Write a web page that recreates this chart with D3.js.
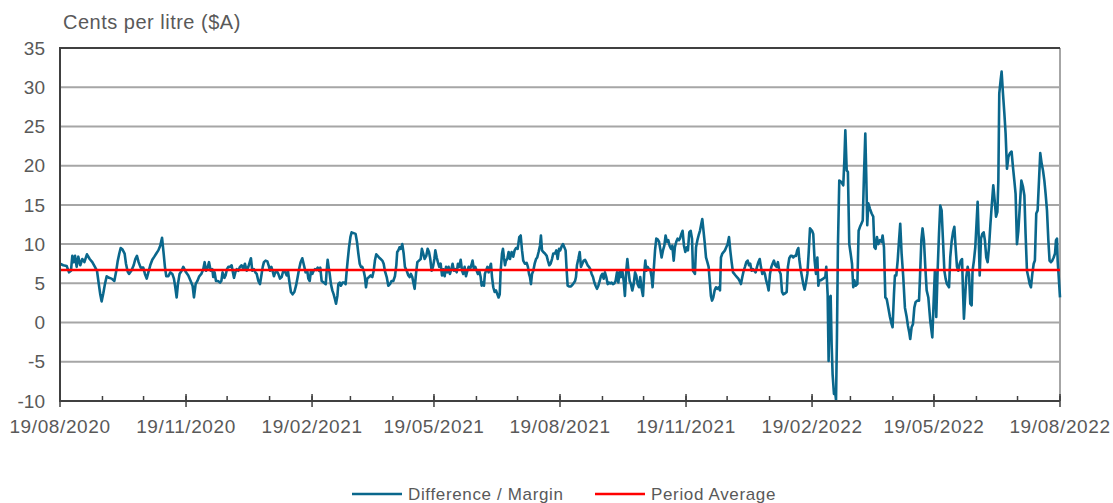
<!DOCTYPE html>
<html>
<head>
<meta charset="utf-8">
<script src="https://cdn.jsdelivr.net/npm/d3@7"></script>
<style>
  body { margin: 0; background: #fff; }
  text { font-family: "Liberation Sans", Arial, sans-serif; fill: #595959; }
</style>
</head>
<body>
<div id="chart"></div>
<script>
// Data: [days since 19/08/2020, margin in cents per litre]
const marginPoints = [
  [0,7.5],[2.4,7.3],[4.9,7.2],[6.6,6.4],[8.0,6.6],[9.0,8.5],[10.0,7.7],[11.0,8.5],[12.2,7.1],[13.4,8.4],[14.8,7.3],[16.3,8.1],[17.8,7.7],[19.7,8.7],[21.7,8.1],[23.6,7.7],[25.5,7.1],[27.0,6.6],[28.2,5.1],[29.4,3.6],[30.4,2.7],[31.6,3.7],[32.8,4.9],[34.1,5.9],[35.8,5.7],[37.7,5.6],[39.7,5.3],[41.1,6.6],[42.1,7.8],[43.3,8.8],[44.3,9.5],[45.7,9.3],[47.2,8.8],[48.2,7.5],[49.4,6.5],[50.4,6.2],[52.1,6.6],[53.8,7.3],[55.0,8.1],[56.2,8.5],[57.4,7.7],[58.9,7.0],[60.8,7.0],[62.0,6.2],[63.3,5.6],[64.5,6.4],[65.9,7.3],[67.4,8.0],[68.9,8.4],[70.3,8.8],[71.8,9.2],[73.2,9.8],[74.5,10.8],[75.7,8.8],[76.6,7.1],[77.6,5.9],[79.1,5.9],[80.5,6.4],[82.0,6.2],[83.2,5.6],[84.2,4.5],[85.2,3.2],[86.1,4.9],[87.3,6.2],[88.8,6.6],
  [90.0,7.1],[92.0,6.4],[93.7,6.0],[95.4,5.3],[96.8,4.7],[97.8,3.2],[99.0,4.9],[100.3,5.3],[101.7,5.9],[103.2,6.2],[104.6,6.8],[105.6,7.7],[106.6,6.6],[107.8,7.0],[108.8,7.7],[110.0,6.6],[111.2,6.8],[111.9,5.8],[112.9,6.4],[113.9,5.3],[115.3,5.3],[116.8,5.1],[117.8,5.3],[118.7,6.4],[120.0,5.7],[120.9,6.0],[121.9,6.8],[122.9,7.1],[124.1,7.1],[125.3,7.3],[126.0,6.6],[127.0,5.7],[128.0,6.4],[129.0,6.8],[130.2,6.6],[131.4,7.1],[132.6,7.3],[133.8,6.8],[135.0,7.5],[136.3,6.6],[137.5,7.1],[138.5,7.7],[139.4,8.2],[140.4,6.6],[141.6,6.8],[142.6,6.4],[143.6,6.2],[144.8,5.3],[146.0,4.9],[147.0,6.0],[148.0,7.1],[148.9,7.7],[150.1,7.9],[151.4,7.8],[152.3,7.3],[153.3,6.6],[154.3,7.1],[155.2,6.6],[156.2,5.9],[157.2,6.4],[158.2,6.6],[159.4,6.2],[160.6,5.6],[161.8,5.8],[163.0,6.6],[164.5,6.4],[165.5,6.0],[166.4,6.6],[167.4,5.3],[168.6,3.9],[169.8,3.6],[171.1,3.9],[172.3,4.7],[173.5,5.8],[174.5,6.8],[175.7,7.7],[176.9,8.2],[178.1,7.3],
  [179.3,6.4],[180.5,6.6],[181.3,5.6],[182.3,5.3],[183.2,6.6],[184.2,6.2],[185.2,6.6],[186.1,6.8],[187.1,6.7],[188.1,7.0],[189.1,6.6],[190.0,7.0],[191.0,5.3],[192.5,5.1],[194.0,4.9],[194.7,6.6],[195.4,8.0],[196.1,7.1],[196.9,6.2],[197.8,4.9],[198.8,4.1],[199.8,3.6],[200.7,3.0],[201.5,2.4],[202.5,3.4],[203.2,4.9],[204.2,5.1],[205.1,4.7],[206.3,5.1],[207.6,5.1],[208.5,4.9],[209.3,6.6],[210.0,7.9],[211.0,9.6],[212.0,10.9],[212.9,11.5],[214.4,11.4],[215.8,11.3],[216.8,10.3],[217.8,8.8],[218.8,7.5],[219.7,7.1],[220.7,7.1],[221.7,6.6],[222.6,5.8],[223.4,4.5],[224.3,5.6],[225.6,5.8],[226.8,6.0],[228.0,5.8],[229.0,6.6],[229.9,7.9],[230.9,8.7],[231.9,8.5],[232.9,8.3],[234.1,8.1],[235.3,7.9],[236.3,7.5],[237.2,6.6],[238.5,5.8],[239.7,4.7],[240.9,4.9],[242.1,5.3],[243.3,5.3],[244.5,5.9],[245.5,7.3],[246.2,9.0],[247.0,9.2],[247.9,9.6],[248.9,9.4],[249.9,10.0],[250.9,8.8],[251.8,7.1],[253.1,6.6],[254.3,6.0],[255.3,5.8],[256.2,6.2],[257.2,5.8],[258.2,4.9],[258.9,4.3],[259.9,6.2],[260.9,7.7],[262.1,7.9],[263.3,8.1],[264.2,9.4],[265.2,8.8],[266.2,8.1],[267.4,8.5],[268.4,9.4],[269.4,9.0],[270.3,8.1],[271.3,6.6],[272.3,7.1],[273.3,8.1],
  [274.0,9.2],[275.0,8.3],[275.9,7.7],[276.9,7.1],[277.9,7.5],[278.9,6.0],[279.8,6.8],[280.8,5.9],[281.8,7.1],[282.8,6.4],[283.7,7.1],[284.7,6.2],[285.7,6.8],[286.6,7.5],[287.6,6.6],[288.6,6.8],[289.6,6.4],[290.5,7.5],[291.5,7.1],[292.5,8.0],[293.5,6.6],[294.4,6.2],[295.4,7.1],[296.4,5.9],[297.4,6.6],[298.3,7.1],[299.3,6.8],[300.3,7.3],[301.2,7.9],[302.2,6.8],[303.2,7.1],[304.2,6.6],[305.1,6.2],[306.1,6.6],[307.1,5.8],[307.8,4.7],[308.5,5.1],[309.5,4.7],[310.2,6.2],[311.0,6.6],[312.0,7.1],[312.9,6.4],[313.9,7.1],[314.6,7.5],[315.4,5.8],[316.3,4.5],[317.3,3.9],[318.3,4.1],[319.3,3.6],[320.2,3.2],[321.0,3.6],[321.7,6.6],[322.7,8.8],[323.4,9.4],[324.1,8.3],[324.9,7.3],[325.6,7.9],[326.5,8.1],[327.5,9.0],[328.5,8.1],[329.7,9.0],[330.9,8.4],[331.9,9.2],[332.9,9.5],[334.1,9.4],[335.3,10.9],[336.3,11.1],[337.3,9.2],[338.2,7.9],[339.4,7.5],[340.7,7.6],[341.6,7.1],[342.4,6.2],[343.1,5.8],[343.8,4.9],[344.6,6.2],[345.5,6.6],[346.5,7.5],[347.5,8.1],[348.4,8.3],[349.4,9.0],[350.4,9.8],[351.1,11.1],[351.9,9.2],[352.8,9.0],[354.0,8.8],[355.3,8.5],[356.2,7.9],[357.2,7.3],[358.2,7.5],[359.2,8.1],[360.1,8.8],
  [361.4,8.8],[362.3,9.2],[363.3,8.1],[364.3,9.4],[365.2,9.2],[366.2,9.7],[367.2,10.0],[368.2,9.6],[369.1,9.2],[369.9,6.6],[370.6,4.7],[371.6,4.6],[373.0,4.6],[374.5,4.9],[376.0,5.3],[376.7,5.8],[377.4,7.3],[378.4,8.1],[379.4,9.0],[380.3,7.1],[381.3,7.5],[382.3,7.9],[383.3,8.0],[384.2,7.7],[385.2,7.3],[386.2,7.1],[387.1,6.8],[388.1,6.2],[389.1,5.8],[390.1,5.1],[391.0,4.7],[392.0,4.3],[393.0,4.7],[394.0,5.3],[394.9,5.9],[395.9,6.2],[396.9,5.6],[397.8,6.4],[398.8,5.8],[399.8,4.9],[400.8,5.1],[401.7,5.0],[402.7,5.1],[403.7,4.9],[404.7,5.0],[405.6,5.3],[406.6,6.4],[407.6,5.1],[408.6,6.6],[409.5,5.8],[410.5,6.6],[411.5,5.3],[412.4,3.4],[413.4,6.6],[414.2,8.1],[414.9,6.8],[415.9,5.3],[416.8,4.9],[417.8,4.1],[418.8,4.9],[419.8,6.4],[420.7,6.0],[421.7,4.9],[422.7,4.5],[423.6,5.8],[424.6,4.3],[425.6,3.4],[426.6,6.6],[427.3,7.9],[428.0,6.6],[429.0,7.1],[430.0,6.8],[430.9,6.8],[431.9,5.8],[432.6,4.5],[433.4,6.6],[434.4,9.2],[435.3,10.7],[436.3,10.6],[437.3,10.3],[438.2,9.4],[439.2,8.3],[440.2,9.2],[441.2,9.8],[442.1,11.1],[443.1,10.3],[444.1,10.5],[445.0,9.8],[446.0,9.4],[447.0,9.8],[448.0,7.9],[448.9,9.6],[449.9,10.3],[450.9,10.7],[451.9,10.5],
  [452.6,10.7],[453.6,11.3],[454.5,11.7],[455.5,9.8],[456.5,9.0],[457.5,9.6],[458.4,9.2],[459.4,11.5],[460.4,11.7],[461.4,10.7],[462.1,6.6],[462.8,6.4],[463.5,6.2],[464.3,9.6],[465.3,10.5],[466.2,11.1],[467.2,11.7],[468.2,12.6],[468.9,13.2],[469.6,12.0],[470.6,10.3],[471.6,8.3],[472.6,7.7],[473.5,7.1],[474.5,4.9],[475.2,3.4],[476.0,2.8],[476.9,3.2],[477.9,4.1],[478.9,4.5],[479.9,4.3],[480.8,4.5],[481.8,4.1],[482.5,8.3],[483.5,8.8],[484.5,9.0],[485.4,9.2],[486.4,9.6],[487.4,10.0],[488.4,10.9],[489.3,9.2],[490.3,7.7],[491.3,6.4],[492.3,6.2],[493.2,6.0],[494.2,5.8],[495.2,5.6],[496.2,5.3],[497.1,4.9],[498.1,5.8],[499.1,6.6],[500.0,7.1],[501.0,7.7],[502.0,7.9],[503.0,7.3],[503.9,7.5],[504.9,6.6],[505.9,6.8],[506.9,6.6],[507.8,6.4],[508.8,7.1],[509.8,7.7],[510.8,8.1],[511.7,7.1],[512.7,6.2],[513.7,6.6],[514.6,6.2],[515.6,5.3],[516.6,4.7],[517.3,4.1],[518.3,6.2],[519.3,7.1],[520.2,7.5],[521.2,7.9],[522.2,7.3],[523.2,7.1],[524.1,7.7],[525.1,6.6],[526.1,6.2],[527.1,3.9],[528.0,3.6],[529.2,3.7],[530.5,3.9],[531.4,7.1],[532.4,8.2],[533.4,8.5],[534.4,8.5],[535.3,8.3],[536.3,8.5],[537.3,8.5],[538.2,9.2],[539.0,9.5],[539.7,8.1],[540.7,6.8],[541.7,5.8],[542.6,4.9],[543.6,4.2],[544.6,5.1],[545.6,6.2],[546.5,8.8],[547.5,12.0],
  [549.0,11.7],[549.9,11.3],[550.9,7.9],[551.9,6.2],[552.9,8.3],[553.6,4.7],[554.3,5.4],[555.5,5.4],[557.2,5.6],[558.7,5.8],[559.4,7.1],[560.4,3.6],[561.1,-4.9],[561.9,3.2],[562.6,3.4],[563.3,-2.8],[564.0,-6.6],[565.0,-9.1],[566.0,-9.1],[566.5,-9.9],[567.2,-1.9],[567.9,9.6],[568.9,18.1],[570.4,17.9],[571.8,17.5],[572.6,20.7],[573.3,24.5],[574.3,19.4],[575.2,19.2],[576.2,10.0],[577.2,8.8],[578.2,7.5],[579.1,4.5],[579.9,5.4],[580.8,4.7],[582.1,4.9],[583.0,11.7],[584.0,12.2],[585.0,12.6],[586.0,13.0],[586.9,18.6],[587.9,24.1],[588.6,18.6],[589.3,12.4],[590.1,15.2],[591.3,14.5],[592.5,13.9],[593.7,13.5],[594.5,9.6],[595.4,9.4],[596.4,10.9],[597.4,10.0],[598.6,10.5],[599.8,10.3],[600.5,11.1],[601.5,9.6],[602.5,3.2],[603.5,3.0],[604.7,1.9],[605.9,0.7],[607.1,-0.2],[607.8,-0.6],[608.8,3.6],[609.5,6.0],[610.5,6.0],[611.5,7.9],[612.5,10.5],[613.4,12.6],[614.4,8.8],[615.6,5.8],[616.8,1.9],[618.1,0.7],[619.0,-0.4],[620.0,-1.3],[620.7,-2.1],[621.7,-0.6],[622.7,-0.2],[623.7,1.9],[624.6,2.6],[625.8,2.8],[627.1,2.8],[627.8,5.8],[628.8,10.5],[629.7,12.0],[630.7,10.5],[631.7,7.1],[632.7,4.1],[633.9,3.2],
  [635.3,0.2],[636.8,-1.9],[637.8,2.8],[638.7,6.6],[639.7,0.7],[640.7,6.6],[641.7,11.3],[642.6,14.9],[643.6,14.3],[644.6,10.5],[645.6,6.6],[646.5,5.6],[647.5,4.9],[649.0,4.5],[649.9,8.3],[650.9,10.3],[651.9,11.5],[652.9,12.2],[653.8,9.6],[654.8,7.1],[655.8,6.6],[656.8,7.5],[657.7,7.9],[658.5,8.1],[659.2,4.1],[659.9,0.5],[660.6,2.8],[661.6,5.8],[662.6,7.1],[663.6,6.2],[664.5,2.4],[665.5,2.2],[666.2,6.6],[667.2,7.9],[668.2,9.6],[669.2,13.0],[669.9,15.4],[670.6,11.3],[671.4,6.0],[672.3,10.7],[673.3,11.3],[674.3,11.5],[675.2,10.5],[676.2,8.3],[677.2,7.7],[678.2,9.6],[679.1,12.2],[680.1,14.7],[681.3,17.5],[682.3,15.6],[683.3,13.5],[684.3,14.1],[685.0,18.1],[685.7,29.2],[686.7,30.9],[687.4,32.0],[688.4,29.2],[689.4,26.7],[690.3,24.1],[691.3,19.6],[692.3,21.1],[693.5,21.6],[694.7,21.8],[695.7,19.8],[696.7,18.1],[697.6,16.4],[698.6,10.0],[699.6,11.7],[700.8,15.2],[701.8,18.1],[703.0,17.3],[704.0,16.2],[704.9,11.3],[705.9,6.6],[706.9,5.8],[707.9,4.9],[708.8,4.5],[709.8,6.2],[710.8,7.5],[711.7,7.9],[712.7,13.9],[713.7,14.3],[714.7,18.1],[715.6,21.6],[716.6,20.3],[717.6,19.4],[718.6,18.1],[719.5,16.4],[720.5,14.3],[721.5,10.5],[722.4,7.9],[723.4,7.7],[724.4,7.9],[725.4,8.3],[726.4,8.8],[727.1,10.5],[727.8,10.7],[728.3,7.9],[729.0,6.0],[730.0,3.2]
];

const periodAverage = 6.7;
const yTicks = [-10, -5, 0, 5, 10, 15, 20, 25, 30, 35];
const xTickLabels = ["19/08/2020", "19/11/2020", "19/02/2021", "19/05/2021", "19/08/2021",
                     "19/11/2021", "19/02/2022", "19/05/2022", "19/08/2022"];
const seriesNames = ["Difference / Margin", "Period Average"];
const yAxisTitle = "Cents per litre ($A)";

const parseDate = d3.timeParse("%d/%m/%Y");
const startDate = parseDate(xTickLabels[0]);
const endDate = parseDate(xTickLabels[xTickLabels.length - 1]);

function drawChart() {
    const W = 1113, H = 503;
    const left = 60, right = 1060, top = 48, bottom = 401;

    const x = d3.scaleTime().domain([startDate, endDate]).range([left, right]);
    const y = d3.scaleLinear().domain([-10, 35]).range([bottom, top]);

    const svg = d3.select("#chart").append("svg")
        .attr("width", W)
        .attr("height", H);

    svg.append("rect").attr("width", W).attr("height", H).attr("fill", "#fff");

    // gridlines
    svg.append("g").selectAll("line")
        .data(yTicks.filter(v => v > -10 && v < 35))
        .enter().append("line")
        .attr("x1", left).attr("x2", right)
        .attr("y1", d => y(d)).attr("y2", d => y(d))
        .attr("stroke", "#a6a6a6")
        .attr("stroke-width", 2);

    // plot border
    svg.append("line").attr("x1", right).attr("x2", right).attr("y1", top).attr("y2", bottom)
        .attr("stroke", "#a6a6a6").attr("stroke-width", 2);
    svg.append("line").attr("x1", left).attr("x2", right).attr("y1", y(35)).attr("y2", y(35))
        .attr("stroke", "#404040").attr("stroke-width", 2);

    // y tick labels
    svg.append("g").selectAll("text")
        .data(yTicks)
        .enter().append("text")
        .attr("x", 45)
        .attr("y", d => y(d))
        .attr("dy", "0.35em")
        .attr("text-anchor", "end")
        .style("font-size", "19px")
        .text(d => d);

    svg.append("text")
        .attr("x", 63)
        .attr("y", 29)
        .style("font-size", "20px")
        .style("letter-spacing", "0.5px")
        .text(yAxisTitle);

    // margin line
    const line = d3.line()
        .x(d => x(d3.timeHour.offset(startDate, d[0] * 24)))
        .y(d => y(Math.max(-10, d[1])));

    svg.append("path")
        .datum(marginPoints)
        .attr("fill", "none")
        .attr("stroke", "#0a678c")
        .attr("stroke-width", 2.6)
        .attr("stroke-linejoin", "round")
        .attr("d", line);

    // period average
    svg.append("line")
        .attr("x1", left).attr("x2", right)
        .attr("y1", y(periodAverage)).attr("y2", y(periodAverage))
        .attr("stroke", "#ff0000")
        .attr("stroke-width", 2.6);

    // axes lines
    svg.append("line").attr("x1", left).attr("x2", left).attr("y1", top - 1).attr("y2", bottom + 1)
        .attr("stroke", "#404040").attr("stroke-width", 2);
    svg.append("line").attr("x1", left).attr("x2", right).attr("y1", bottom).attr("y2", bottom)
        .attr("stroke", "#404040").attr("stroke-width", 2);

    // minor monthly ticks
    const minorDates = d3.range(0, 25).map(i => d3.timeMonth.offset(startDate, i));
    svg.append("g").selectAll("line")
        .data(minorDates)
        .enter().append("line")
        .attr("x1", d => x(d)).attr("x2", d => x(d))
        .attr("y1", bottom - 5).attr("y2", bottom)
        .attr("stroke", "#404040").attr("stroke-width", 1.5);

    // major ticks + labels
    const majorDates = xTickLabels.map(parseDate);
    svg.append("g").selectAll("line")
        .data(majorDates)
        .enter().append("line")
        .attr("x1", d => x(d)).attr("x2", d => x(d))
        .attr("y1", bottom - 7).attr("y2", bottom + 6)
        .attr("stroke", "#404040").attr("stroke-width", 1.5);

    svg.append("g").selectAll("text")
        .data(xTickLabels)
        .enter().append("text")
        .attr("x", d => x(parseDate(d)))
        .attr("y", 426)
        .attr("dy", "0.35em")
        .attr("text-anchor", "middle")
        .style("font-size", "19px")
        .style("letter-spacing", "0.6px")
        .text(d => d);

    // legend
    const legend = svg.append("g");
    const legendItems = [
        { name: seriesNames[0], color: "#0a678c", x: 352 },
        { name: seriesNames[1], color: "#ff0000", x: 595 }
    ];
    legendItems.forEach(item => {
        legend.append("line")
            .attr("x1", item.x).attr("x2", item.x + 50)
            .attr("y1", 494).attr("y2", 494)
            .attr("stroke", item.color)
            .attr("stroke-width", 2.6);
        legend.append("text")
            .attr("x", item.x + 56)
            .attr("y", 494)
            .attr("dy", "0.35em")
            .style("font-size", "17px")
            .style("letter-spacing", "0.65px")
            .text(item.name);
    });
}

drawChart();
</script>
</body>
</html>
